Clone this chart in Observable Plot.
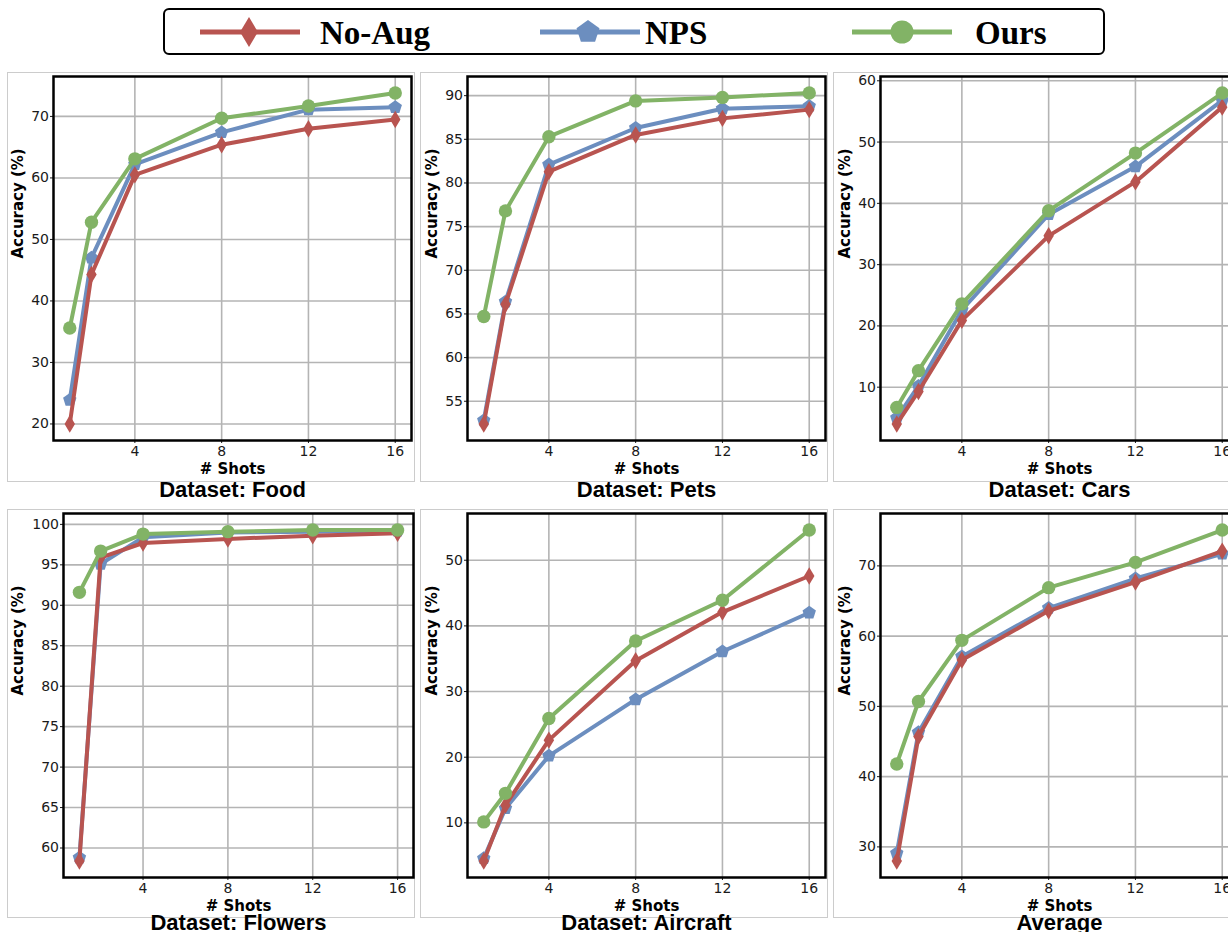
<!DOCTYPE html>
<html><head><meta charset="utf-8">
<script src="https://cdn.jsdelivr.net/npm/d3@7"></script>
<script src="https://cdn.jsdelivr.net/npm/@observablehq/plot@0.6"></script>
<style>
html,body{margin:0;padding:0;background:#fff;overflow:hidden;}
body{width:1228px;height:932px;position:relative;}
.box{position:absolute;border:1px solid #cccccc;box-sizing:border-box;}
.panel{position:absolute;}
.panel svg{overflow:visible;display:block;max-width:none !important;}
#legendbox{position:absolute;left:163px;top:8px;width:942px;height:47px;border:2px solid #000;border-radius:6px;box-sizing:border-box;}
#legend{position:absolute;left:0;top:0;}
</style></head><body>
<div id="legendbox"></div>
<script>
// ---- data ----
const shots = [1, 2, 4, 8, 12, 16];
const xTicks = [4, 8, 12, 16];
const seriesNames = ["No-Aug", "NPS", "Ours"];
const seriesColors = ["#b85450", "#6c8ebf", "#82b366"];

const foodNoAug = [20.0, 44.3, 60.5, 65.4, 68.0, 69.5];
const foodNPS   = [23.9, 47.0, 62.2, 67.4, 71.1, 71.5];
const foodOurs  = [35.6, 52.8, 63.1, 69.7, 71.7, 73.8];
const foodTicks = [20, 30, 40, 50, 60, 70];

const petsNoAug = [52.4, 66.1, 81.3, 85.5, 87.4, 88.4];
const petsNPS   = [52.8, 66.4, 82.1, 86.3, 88.5, 88.8];
const petsOurs  = [64.7, 76.8, 85.3, 89.4, 89.8, 90.3];
const petsTicks = [55, 60, 65, 70, 75, 80, 85, 90];

const carsNoAug = [4.0, 9.3, 20.9, 34.7, 43.5, 55.7];
const carsNPS   = [5.0, 10.2, 22.6, 38.2, 46.0, 56.8];
const carsOurs  = [6.7, 12.7, 23.6, 38.8, 48.2, 58.0];
const carsTicks = [10, 20, 30, 40, 50, 60];

const flowersNoAug = [58.4, 95.9, 97.7, 98.2, 98.6, 98.9];
const flowersNPS   = [58.8, 95.1, 98.4, 99.0, 99.1, 99.2];
const flowersOurs  = [91.6, 96.7, 98.8, 99.1, 99.3, 99.3];
const flowersTicks = [60, 65, 70, 75, 80, 85, 90, 95, 100];

const aircraftNoAug = [4.2, 12.7, 22.6, 34.7, 42.1, 47.6];
const aircraftNPS   = [4.6, 12.2, 20.2, 28.8, 36.1, 42.0];
const aircraftOurs  = [10.15, 14.5, 25.9, 37.7, 43.9, 54.6];
const aircraftTicks = [10, 20, 30, 40, 50];

const averageNoAug = [28.0, 45.7, 56.6, 63.6, 67.7, 72.1];
const averageNPS   = [29.1, 46.3, 57.1, 64.0, 68.2, 71.7];
const averageOurs  = [41.8, 50.7, 59.4, 66.9, 70.5, 75.1];
const averageTicks = [30, 40, 50, 60, 70];

const titles = ["Dataset: Food", "Dataset: Pets", "Dataset: Cars", "Dataset: Flowers", "Dataset: Aircraft", "Average"];
const panelSeries = [
  [foodNoAug, foodNPS, foodOurs],
  [petsNoAug, petsNPS, petsOurs],
  [carsNoAug, carsNPS, carsOurs],
  [flowersNoAug, flowersNPS, flowersOurs],
  [aircraftNoAug, aircraftNPS, aircraftOurs],
  [averageNoAug, averageNPS, averageOurs]
];
const panelTicks = [foodTicks, petsTicks, carsTicks, flowersTicks, aircraftTicks, averageTicks];

// ---- layout (positions only) ----
const layout = [
  {left: 7,   top: 72,  w: 408, h: 430, mL: 46, mR: 4, mT: 4, mB: 62, labDx: 35, titleDy: 49, boxH: 410},
  {left: 420, top: 72,  w: 408, h: 430, mL: 47, mR: 3, mT: 4, mB: 62, labDx: 35, titleDy: 49, boxH: 410},
  {left: 833, top: 72,  w: 408, h: 430, mL: 47, mR: 3, mT: 4, mB: 62, labDx: 35, titleDy: 49, boxH: 410},
  {left: 7,   top: 509, w: 408, h: 423, mL: 56, mR: 2, mT: 4, mB: 55, labDx: 45, titleDy: 45, boxH: 409},
  {left: 420, top: 509, w: 408, h: 423, mL: 47, mR: 3, mT: 4, mB: 55, labDx: 35, titleDy: 45, boxH: 409},
  {left: 833, top: 509, w: 408, h: 423, mL: 47, mR: 3, mT: 4, mB: 55, labDx: 35, titleDy: 45, boxH: 409}
];

// ---- custom symbols ----
const thinDiamond = {draw(ctx, size) {
  const r = Math.sqrt(size / Math.PI), h = r * 1.3, w = r * 0.78;
  ctx.moveTo(0, -h); ctx.lineTo(w, 0); ctx.lineTo(0, h); ctx.lineTo(-w, 0); ctx.closePath();
}};
const pentagon = {draw(ctx, size) {
  const r = Math.sqrt(size / Math.PI) * 1.05;
  for (let i = 0; i < 5; i++) {
    const a = -Math.PI / 2 + i * 2 * Math.PI / 5;
    const x = r * Math.cos(a), y = r * Math.sin(a);
    if (i) ctx.lineTo(x, y); else ctx.moveTo(x, y);
  }
  ctx.closePath();
}};
const seriesSymbols = [thinDiamond, pentagon, "circle"];
const drawOrder = [1, 0, 2];

const gridStyle = {stroke: "#b4b4b4", strokeOpacity: 1, strokeWidth: 1.6};

panelSeries.forEach((series, pi) => {
  const L = layout[pi];
  const all = series.flat();
  const [lo, hi] = d3.extent(all);
  const pad = (hi - lo) * 0.05;
  const marks = [];
  drawOrder.forEach(si => {
    const rows = shots.map((s, i) => ({shot: s, acc: series[si][i]}));
    marks.push(Plot.line(rows, {x: "shot", y: "acc", stroke: seriesColors[si], strokeWidth: 4, strokeLinejoin: "round"}));
    marks.push(Plot.dot(rows, {x: "shot", y: "acc", symbol: seriesSymbols[si], r: 6.7, fill: seriesColors[si], stroke: "none"}));
  });

  const box = document.createElement("div");
  box.className = "box";
  box.style.left = L.left + "px"; box.style.top = L.top + "px";
  box.style.width = L.w + "px"; box.style.height = L.boxH + "px";
  document.body.appendChild(box);

  const chart = Plot.plot({
    width: L.w, height: L.h,
    marginLeft: L.mL, marginRight: L.mR, marginTop: L.mT, marginBottom: L.mB,
    x: {domain: [0.25, 16.75], axis: null},
    y: {domain: [lo - pad, hi + pad], axis: null},
    style: {fontFamily: "DejaVu Sans", fontSize: "14px", color: "#1a1a1a", background: "transparent", overflow: "visible", maxWidth: "none"},
    marks: [
      Plot.gridX(xTicks, gridStyle),
      Plot.gridY(panelTicks[pi], gridStyle),
      Plot.axisX(xTicks, {tickSize: 3, tickPadding: 3, label: null, tickFormat: d => String(d)}),
      Plot.axisY(panelTicks[pi], {tickSize: 3, tickPadding: 1.5, label: null, tickFormat: d => String(d)}),
      ...marks,
      Plot.frame({stroke: "#000", strokeWidth: 2.5}),
      Plot.text(["Accuracy (%)"], {text: d => d, frameAnchor: "left", rotate: -90, dx: -L.labDx, fontWeight: "bold", fontSize: 15, lineAnchor: "middle", fill: "#000"}),
      Plot.text(["# Shots"], {text: d => d, frameAnchor: "bottom", dy: 29, fontWeight: "bold", fontSize: 15, lineAnchor: "middle", fill: "#000"}),
      Plot.text([titles[pi]], {text: d => d, frameAnchor: "bottom", dy: L.titleDy, fontFamily: "Liberation Sans, Arial, sans-serif", fontWeight: "bold", fontSize: 22, lineAnchor: "middle", fill: "#000"})
    ]
  });
  const wrap = document.createElement("div");
  wrap.className = "panel";
  wrap.style.left = L.left + "px"; wrap.style.top = L.top + "px";
  wrap.style.width = L.w + "px"; wrap.style.height = L.h + "px";
  wrap.appendChild(chart);
  document.body.appendChild(wrap);
});

// ---- legend ----
const legendPos = [
  {x1: 200, x2: 300, mx: 249, tx: 320},
  {x1: 540, x2: 640, mx: 588, tx: 645},
  {x1: 852, x2: 952, mx: 902, tx: 975}
];
const lsvg = d3.create("svg").attr("id", "legend").attr("width", 1228).attr("height", 62);
seriesNames.forEach((name, i) => {
  const p = legendPos[i];
  lsvg.append("line").attr("x1", p.x1).attr("x2", p.x2).attr("y1", 32).attr("y2", 32)
    .attr("stroke", seriesColors[i]).attr("stroke-width", 5);
  const sym = seriesSymbols[i] === "circle" ? d3.symbolCircle : seriesSymbols[i];
  lsvg.append("path").attr("transform", `translate(${p.mx},32)`)
    .attr("d", d3.symbol(sym, 11.5 * 11.5 * Math.PI)()).attr("fill", seriesColors[i]);
  lsvg.append("text").attr("x", p.tx).attr("y", 44)
    .attr("font-family", "Liberation Serif, Times New Roman, serif").attr("font-weight", "bold")
    .attr("font-size", 33).attr("fill", "#000").text(name);
});
document.body.appendChild(lsvg.node());
</script>
</body></html>
